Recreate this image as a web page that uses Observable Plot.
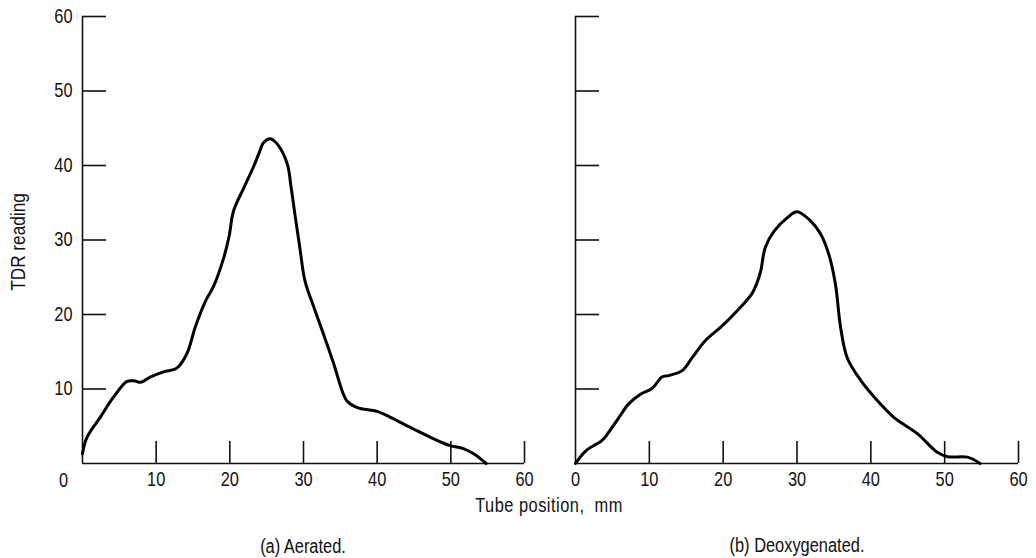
<!DOCTYPE html>
<html>
<head>
<meta charset="utf-8">
<script src="https://cdn.jsdelivr.net/npm/d3@7"></script>
<script src="https://cdn.jsdelivr.net/npm/@observablehq/plot@0.6"></script>
<style>
  html, body { margin: 0; padding: 0; background: #fff; }
  #wrap { position: relative; width: 1036px; height: 558px; overflow: hidden;
          font-family: "Liberation Sans", Arial, sans-serif; color: #111; }
  .panel { position: absolute; top: 0; }
  .lbl { position: absolute; font-size: 20px; white-space: nowrap; transform: translate(-50%, -50%) scaleX(0.82); }
  .ylbl { position: absolute; font-size: 21px; white-space: nowrap; transform: translate(-50%, -50%) rotate(-90deg) scaleX(0.82); }
</style>
</head>
<body>
<div id="wrap">
  <div id="left" class="panel" style="left:0px"></div>
  <div id="right" class="panel" style="left:540px"></div>
  <div class="ylbl" style="left:18px; top:242px;">TDR reading</div>
  <div class="lbl" style="left:549px; top:505px; letter-spacing:0.6px;">Tube position,&nbsp; mm</div>
  <div class="lbl" style="left:303px; top:546px;">(a) Aerated.</div>
  <div class="lbl" style="left:797px; top:545px;">(b) Deoxygenated.</div>
</div>
<script>
// ---- data ----
const xTicks = [10, 20, 30, 40, 50, 60];
const yTicks = [10, 20, 30, 40, 50, 60];

const aeratedPos = [0, 0.6, 2.4, 4.2, 6.0, 7.0, 7.9, 9.2, 11.0, 12.8, 14.2, 15.3, 16.7, 17.8, 19.2, 19.9, 20.5, 21.9, 23.2, 23.9, 24.6, 25.5, 26.5, 27.8, 28.3, 28.9, 29.5, 30.2, 31.4, 32.7, 34.1, 35.3, 35.9, 37.3, 40.0, 41.8, 45.0, 47.7, 49.9, 51.7, 53.1, 54.8];
const aeratedTDR = [1.3, 3.5, 6.2, 8.9, 11.0, 11.1, 10.9, 11.6, 12.3, 12.8, 14.8, 18.3, 21.8, 23.8, 27.7, 30.5, 33.9, 37.0, 39.8, 41.5, 43.1, 43.6, 42.8, 40.2, 37.2, 33.0, 29.0, 24.5, 21.0, 17.4, 13.4, 9.6, 8.4, 7.5, 7.0, 6.2, 4.6, 3.3, 2.4, 2.0, 1.3, 0];

const deoxPos = [0, 1.4, 3.6, 4.5, 5.9, 7.2, 8.8, 10.4, 11.7, 12.6, 14.5, 15.8, 17.6, 19.9, 22.0, 23.9, 24.6, 25.1, 25.7, 26.9, 28.7, 30.0, 31.8, 33.2, 34.3, 35.2, 35.9, 36.8, 38.6, 41.3, 43.1, 46.3, 49.0, 50.4, 53.1, 54.8];
const deoxTDR = [0, 1.7, 3.1, 4.2, 6.2, 8.0, 9.3, 10.1, 11.6, 11.8, 12.5, 14.2, 16.5, 18.5, 20.6, 22.8, 24.3, 25.9, 29.0, 31.2, 33.0, 33.8, 32.6, 30.8, 28.1, 24.1, 18.3, 14.2, 11.2, 8.0, 6.2, 4.0, 1.5, 0.9, 0.85, 0];

const aerated = aeratedPos.map((x, i) => ({x, y: aeratedTDR[i]}));
const deox = deoxPos.map((x, i) => ({x, y: deoxTDR[i]}));

const H = 500, MT = 16, MB = 37;
const frameH = H - MT - MB;
const font = '"Liberation Sans", Arial, sans-serif';

function panel(data, {width, marginLeft, marginRight, showY}) {
  const frameW = width - marginLeft - marginRight;
  const marks = [
    Plot.ruleX([0], {stroke: "#111", strokeWidth: 1.6}),
    Plot.ruleY([0], {stroke: "#111", strokeWidth: 1.6}),
    Plot.tickX(xTicks, {x: d => d, stroke: "#111", strokeWidth: 1.6, insetTop: frameH - 22}),
    Plot.tickY(yTicks, {y: d => d, stroke: "#111", strokeWidth: 1.6, insetRight: frameW - 24}),
    Plot.line(data, {x: "x", y: "y", curve: "catmull-rom", stroke: "#000", strokeWidth: 3, strokeLinejoin: "round", strokeLinecap: "round"}),
    Plot.axisX({ticks: showY ? xTicks : [0, ...xTicks], tickSize: 0, tickPadding: 8, label: null})
  ];
  if (showY) {
    marks.push(Plot.axisY({ticks: yTicks, tickSize: 0, tickPadding: 10, label: null}));
    marks.push(Plot.text([0], {x: 0, y: 0, text: d => String(d), dx: -19, dy: 17, lineAnchor: "middle"}));
  } else {
    marks.push(Plot.axisY({ticks: [], tickSize: 0, label: null}));
  }
  const svg = Plot.plot({
    width, height: H,
    marginTop: MT, marginBottom: MB, marginLeft, marginRight,
    x: {domain: [0, 60]},
    y: {domain: [0, 60]},
    style: {fontFamily: font, fontSize: "20px", color: "#111", background: "transparent", overflow: "visible"},
    marks
  });
  // condensed lettering like the original typeface
  d3.select(svg).selectAll("text").each(function () {
    const t = this.getAttribute("transform");
    this.setAttribute("transform", (t ? t + " " : "") + "scale(0.82,1)");
  });
  return svg;
}

document.getElementById("left").append(panel(aerated, {width: 540, marginLeft: 82, marginRight: 16, showY: true}));
document.getElementById("right").append(panel(deox, {width: 496, marginLeft: 35, marginRight: 18, showY: false}));
</script>
</body>
</html>
